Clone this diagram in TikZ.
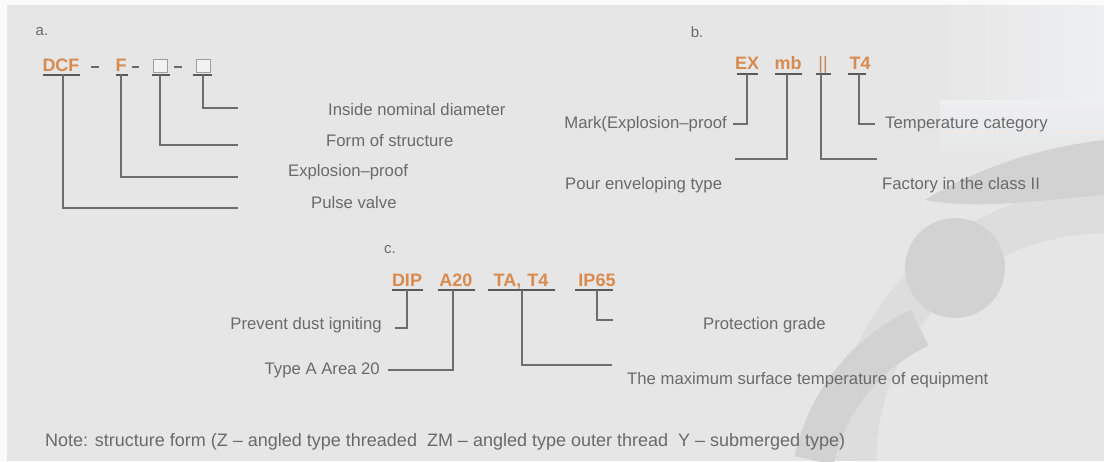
\documentclass[tikz,border=0pt]{standalone}
\usepackage{fontspec}
\setmainfont{Liberation Sans}
\definecolor{bg}{HTML}{E6E6E6}
\definecolor{wm}{HTML}{DDDDDD}
\definecolor{wmd}{HTML}{D2D2D2}
\definecolor{wml}{HTML}{EEEFF1}
\definecolor{txtgray}{HTML}{6A6A6A}
\definecolor{codeor}{HTML}{D98A4E}
\definecolor{ulgray}{HTML}{5A5A5A}
\definecolor{lngray}{HTML}{6E6E6E}
\tikzset{
  lbl/.style={font=\fontsize{16.7}{20}\selectfont, text=txtgray, inner sep=0pt},
  head/.style={font=\fontsize{15}{16}\selectfont, text=txtgray, inner sep=0pt},
  code/.style={font=\fontsize{18}{20}\selectfont\bfseries, text=codeor, inner sep=0pt, anchor=base},
  dashg/.style={draw=txtgray, line width=2pt},
  boxg/.style={draw=black!38, fill=black!5, line width=1pt, minimum width=14pt, minimum height=13pt, inner sep=0pt},
  uline/.style={draw=ulgray, line width=2pt},
  conn/.style={draw=lngray, line width=1.3pt},
  note/.style={font=\fontsize{18}{20}\selectfont, text=txtgray, inner sep=0pt}
}
\begin{document}
\begin{tikzpicture}[x=1pt,y=-1pt]
\useasboundingbox (0,0) rectangle (1104,461);
\fill[bg] (0,0) rectangle (1104,461);
% faint watermark
\begin{scope}
\clip (0,0) rectangle (1104,461);
\shade[left color=bg, right color=wml] (940,0) rectangle (1104,140);
\shade[top color=wml, bottom color=bg] (940,100) rectangle (1104,160);
\draw[wm, line width=45pt] (1104,461) ++(180:250) arc[start angle=180, end angle=270, radius=250];
\fill[wmd] (955,268) circle[radius=50];
\fill[wmd] (925,200) .. controls (990,160) and (1060,145) .. (1104,140) -- (1104,195) .. controls (1040,200) and (980,210) .. (925,200) -- cycle;
\draw[wmd, line width=40pt] (1000,500) ++(192:190) arc[start angle=192, end angle=245, radius=190];
\end{scope}
\fill[black!2] (0,0) rectangle (1104,5);
\fill[black!2] (0,0) rectangle (7,461);

% ---------- a ----------
\node[head] (ha) at (42,32) {a.};
\node[code] (dcf) at (61,71.5) {DCF};
\node[code] (f) at (121,71.5) {F};
\node[boxg] (bx1) at (160,66) {};
\node[boxg] (bx2) at (203,66) {};
\coordinate (d1a) at (91,67); \coordinate (d1b) at (99,67);
\coordinate (d2a) at (132,67); \coordinate (d2b) at (139,67);
\coordinate (d3a) at (174,67); \coordinate (d3b) at (182,67);
\draw[dashg] (d1a) -- (d1b);
\draw[dashg] (d2a) -- (d2b);
\draw[dashg] (d3a) -- (d3b);
\draw[uline] (43,75) -- (80,75);
\draw[uline] (116,75) -- (128,75);
\draw[uline] (152,75) -- (170,75);
\draw[uline] (193,75) -- (212,75);
\node[lbl, anchor=west] (l1) at (328,110) {Inside nominal diameter};
\node[lbl, anchor=west] (l2) at (326,141) {Form of structure};
\node[lbl, anchor=west] (l3) at (288,172) {Explosion–proof};
\node[lbl, anchor=west] (l4) at (311,203) {Pulse valve};
\coordinate (e1) at (238,108);
\coordinate (e2) at (238,145);
\coordinate (e3) at (238,177);
\coordinate (e4) at (238,208);
\draw[conn] (bx2.south |- 0,75) |- (e1);
\draw[conn] (bx1.south |- 0,75) |- (e2);
\draw[conn] (f.south |- 0,75) |- (e3);
\draw[conn] (63,75) |- (e4);

% ---------- b ----------
\node[head] (hb) at (697,32) {b.};
\node[code] (ex) at (747,69.5) {EX};
\node[code] (mb) at (788,69.5) {mb};
\node[code, font=\fontsize{18}{20}\selectfont, text=codeor!70!gray] (ii) at (823,69.5) {||};
\node[code] (t4) at (860,69.5) {T4};
\draw[uline] (737,74) -- (758,74);
\draw[uline] (775,74) -- (802,74);
\draw[uline] (816,74) -- (831,74);
\draw[uline] (848,74) -- (866,74);
\node[lbl, anchor=east] (m1) at (727,124) {Mark(Explosion–proof};
\node[lbl, anchor=west] (m2) at (565,185) {Pour enveloping type};
\node[lbl, anchor=west] (m3) at (882,185) {Factory in the class II};
\node[lbl, anchor=west] (m4) at (885,124) {Temperature category};
\coordinate (g1) at (733,124);
\coordinate (g2) at (735,159);
\coordinate (g3) at (877,159);
\coordinate (g4) at (875,124);
\draw[conn] (ex.south |- 0,74) |- (g1);
\draw[conn] (787,74) |- (g2);
\draw[conn] (821,74) |- (g3);
\draw[conn] (859,74) |- (g4);

% ---------- c ----------
\node[head] (hc) at (390,250) {c.};
\node[code] (dip) at (407,286.5) {DIP};
\node[code] (a20) at (456,286.5) {A20};
\node[code] (ta) at (521,286.5) {TA,\,\,T4};
\node[code] (ip) at (597,286.5) {IP65};
\draw[uline] (392,290) -- (423,290);
\draw[uline] (438,290) -- (475,290);
\draw[uline] (488,290) -- (555,290);
\draw[uline] (575,290) -- (613,290);
\node[lbl, anchor=east] (n1) at (382,325) {Prevent dust igniting};
\node[lbl, anchor=east] (n2) at (380,370) {Type A Area 20};
\node[lbl, anchor=west] (n3) at (627,380) {The maximum surface temperature of equipment};
\node[lbl, anchor=west] (n4) at (703,325) {Protection grade};
\coordinate (k1) at (395,328);
\coordinate (k2) at (388,370);
\coordinate (k3) at (612,365);
\coordinate (k4) at (613,320);
\draw[conn] (dip.south |- 0,290) |- (k1);
\draw[conn] (453,290) |- (k2);
\draw[conn] (522,290) |- (k3);
\draw[conn] (ip.south |- 0,290) |- (k4);

% ---------- note ----------
\node[note, anchor=west] (nt) at (45,442) {Note: structure form (Z – angled type threaded\ \ ZM – angled type outer thread\ \ Y – submerged type)};
\end{tikzpicture}
\end{document}
